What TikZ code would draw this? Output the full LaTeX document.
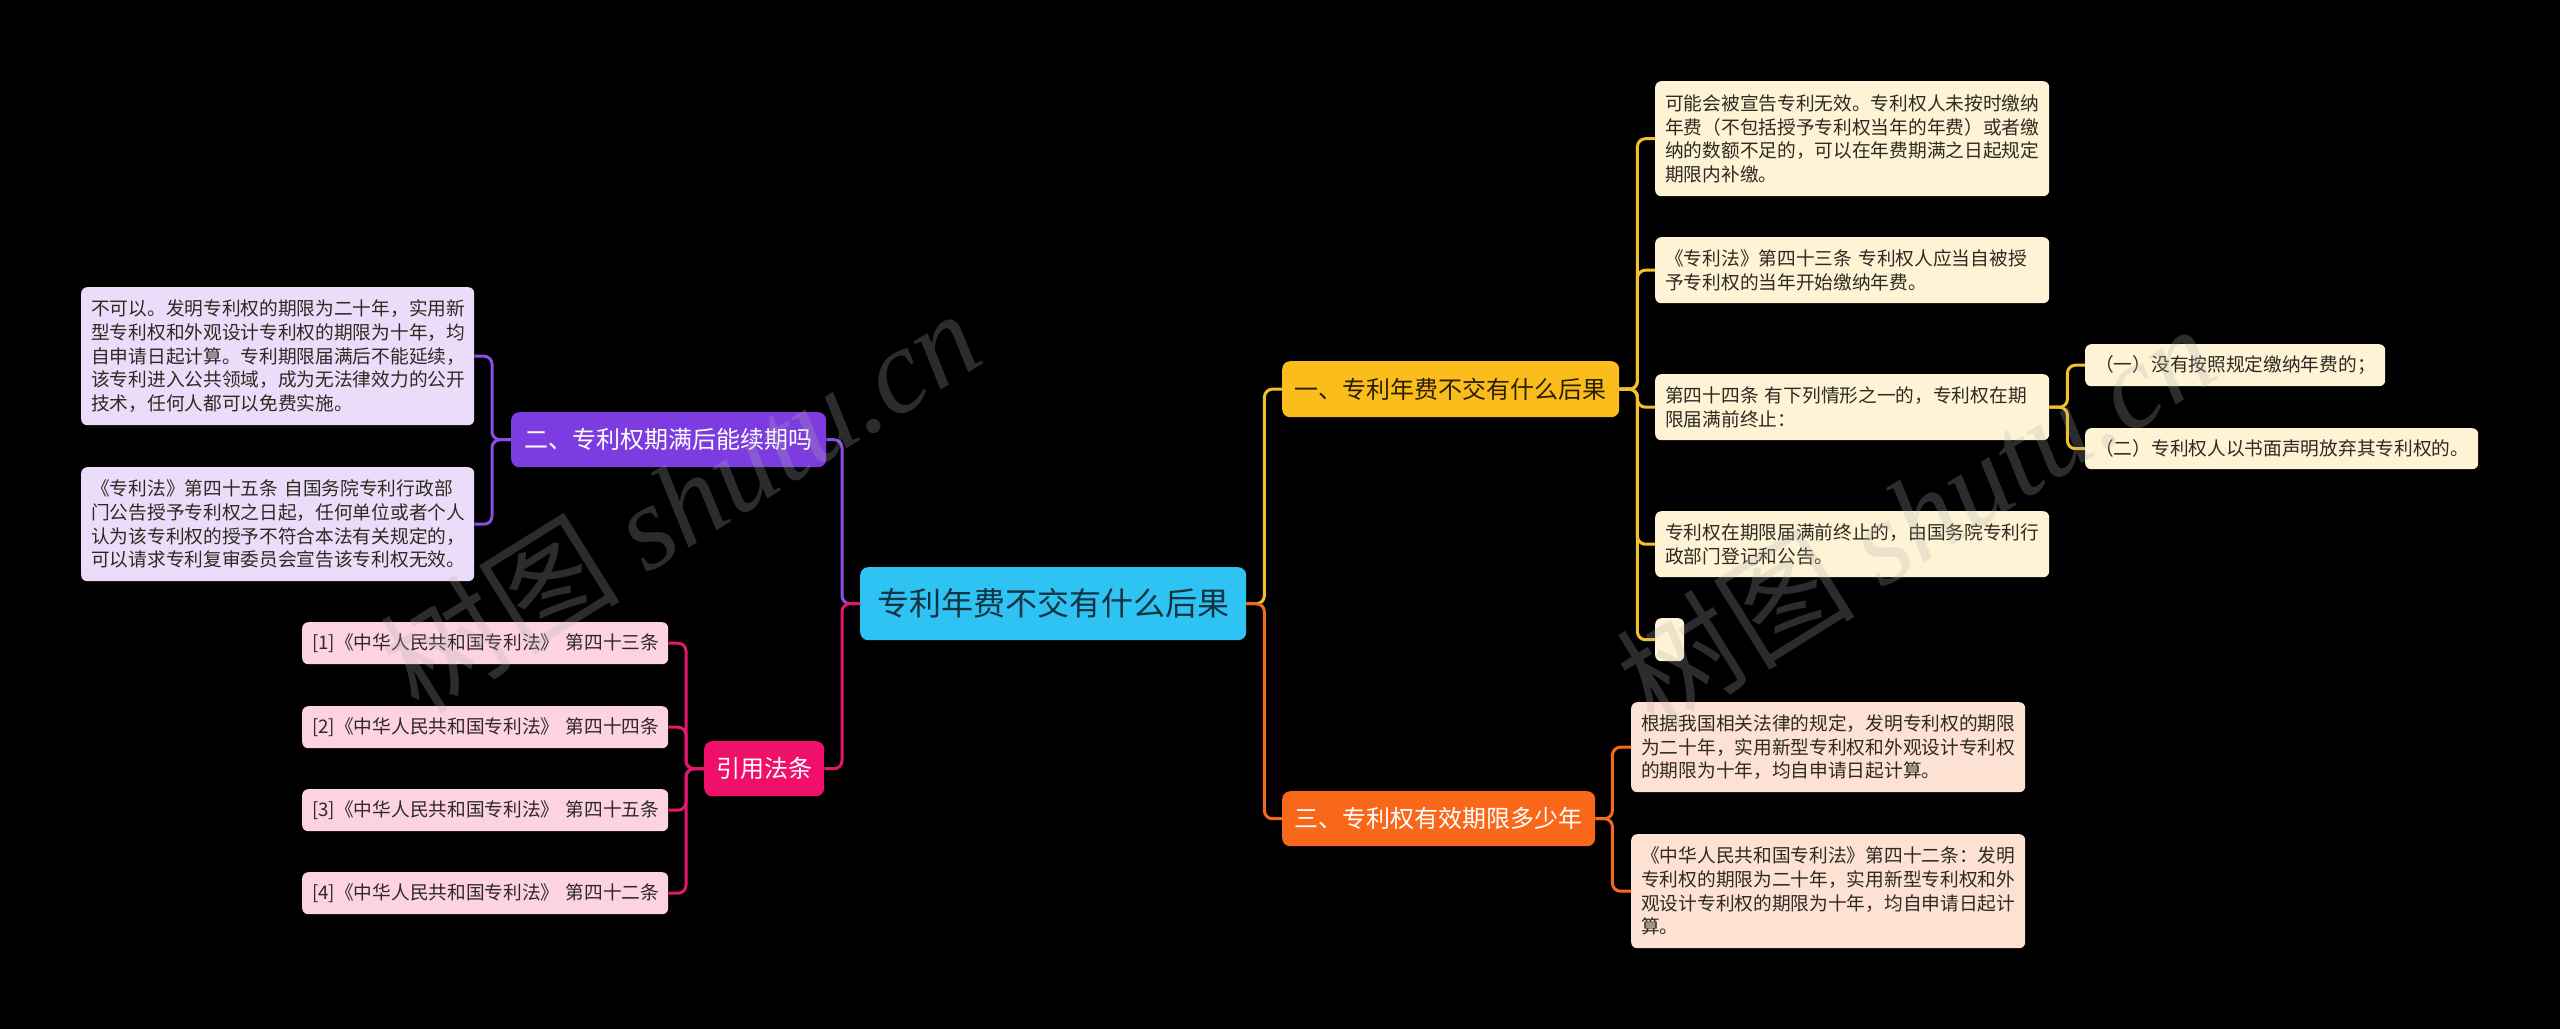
\documentclass[tikz,border=0pt]{standalone}
\usepackage{fontspec}
\setmainfont{Noto Sans CJK SC}
\newfontfamily\wmserif{Liberation Serif}
\definecolor{cenfill}{HTML}{2EC3F2}
\definecolor{centext}{HTML}{123342}
\definecolor{yfill}{HTML}{FABD1C}
\definecolor{ytext}{HTML}{2A2000}
\definecolor{ofill}{HTML}{F8671A}
\definecolor{pfill}{HTML}{7C3CE0}
\definecolor{kfill}{HTML}{F0106C}
\definecolor{yleaf}{HTML}{FFF3D6}
\definecolor{pleaf}{HTML}{EBDDFA}
\definecolor{kleaf}{HTML}{FDD2E3}
\definecolor{oleaf}{HTML}{FDE2D4}
\definecolor{leaftext}{HTML}{2E2A22}
\definecolor{ylin}{HTML}{F2C02A}
\definecolor{olin}{HTML}{F26A1B}
\definecolor{plin}{HTML}{8C4CE6}
\definecolor{klin}{HTML}{E3176E}
\tikzset{
  boxbase/.style={rounded corners=6pt, inner sep=0pt, anchor=north west},
  leafbox/.style={boxbase, inner xsep=10pt, align=left, text=leaftext,
    font=\fontsize{18.7pt}{23.6pt}\selectfont},
  leafY/.style={leafbox, fill=yleaf},
  leafP/.style={leafbox, fill=pleaf},
  leafK/.style={leafbox, fill=kleaf},
  leafO/.style={leafbox, fill=oleaf},
  branchbox/.style={boxbase, rounded corners=8pt, align=center,
    font=\fontsize{24pt}{28pt}\selectfont},
  conn/.style={line width=3pt, rounded corners=8pt},
  lnY/.style={conn, draw=ylin},
  lnO/.style={conn, draw=olin},
  lnP/.style={conn, draw=plin},
  lnK/.style={conn, draw=klin},
  wmark/.style={text=gray!60, opacity=0.25, rotate=32,
    font=\fontsize{120pt}{130pt}\selectfont}
}
\begin{document}
\begin{tikzpicture}[x=1pt,y=-1pt]
\fill[black] (0,0) rectangle (2560,1029);
\useasboundingbox (0,0) rectangle (2560,1029);

% central node
\node[boxbase, rounded corners=8pt, fill=cenfill, text=centext, minimum width=386pt, minimum height=73pt,
  font=\fontsize{32pt}{36pt}\selectfont] (center) at (860,567) {专利年费不交有什么后果};

% branches
\node[branchbox, fill=yfill, text=ytext, minimum width=337pt, minimum height=56pt] (b1) at (1282,361) {一、专利年费不交有什么后果};
\node[branchbox, fill=ofill, text=white, minimum width=313pt, minimum height=55pt] (b3) at (1282,791) {三、专利权有效期限多少年};
\node[branchbox, fill=pfill, text=white, minimum width=315pt, minimum height=55pt] (b2) at (511,412) {二、专利权期满后能续期吗};
\node[branchbox, fill=kfill, text=white, minimum width=120pt, minimum height=55pt] (ref) at (704,741) {引用法条};

% yellow leaves
\node[leafY, text width=374pt, minimum height=115pt] (y1) at (1655,81) {可能会被宣告专利无效。专利权人未按时缴纳\\年费（不包括授予专利权当年的年费）或者缴\\纳的数额不足的，可以在年费期满之日起规定\\期限内补缴。};
\node[leafY, text width=374pt, minimum height=66pt] (y2) at (1655,237) {《专利法》第四十三条 专利权人应当自被授\\予专利权的当年开始缴纳年费。};
\node[leafY, text width=374pt, minimum height=66pt] (y3) at (1655,374) {第四十四条 有下列情形之一的，专利权在期\\限届满前终止：};
\node[leafY, text width=280pt, minimum height=42pt] (y31) at (2085,344) {\mbox{（一）没有按照规定缴纳年费的；}};
\node[leafY, text width=373pt, minimum height=41pt] (y32) at (2085,428) {\mbox{（二）专利权人以书面声明放弃其专利权的。}};
\node[leafY, text width=374pt, minimum height=66pt] (y4) at (1655,511) {专利权在期限届满前终止的，由国务院专利行\\政部门登记和公告。};
\node[boxbase, fill=yleaf, minimum width=29pt, minimum height=43pt] (y5) at (1655,618) {};

% orange leaves
\node[leafO, text width=374pt, minimum height=90pt] (o1) at (1631,702) {根据我国相关法律的规定，发明专利权的期限\\为二十年，实用新型专利权和外观设计专利权\\的期限为十年，均自申请日起计算。};
\node[leafO, text width=374pt, minimum height=114pt] (o2) at (1631,834) {《中华人民共和国专利法》第四十二条：发明\\专利权的期限为二十年，实用新型专利权和外\\观设计专利权的期限为十年，均自申请日起计\\算。};

% purple leaves
\node[leafP, text width=373pt, minimum height=138pt] (pA) at (81,287) {不可以。发明专利权的期限为二十年，实用新\\型专利权和外观设计专利权的期限为十年，均\\自申请日起计算。专利期限届满后不能延续，\\该专利进入公共领域，成为无法律效力的公开\\技术，任何人都可以免费实施。};
\node[leafP, text width=373pt, minimum height=114pt] (pB) at (81,467) {《专利法》第四十五条 自国务院专利行政部\\门公告授予专利权之日起，任何单位或者个人\\认为该专利权的授予不符合本法有关规定的，\\可以请求专利复审委员会宣告该专利权无效。};

% pink leaves
\node[leafK, text width=346pt, minimum height=42pt] (r1) at (302,622) {\mbox{[1]《中华人民共和国专利法》 第四十三条}};
\node[leafK, text width=346pt, minimum height=42pt] (r2) at (302,706) {\mbox{[2]《中华人民共和国专利法》 第四十四条}};
\node[leafK, text width=346pt, minimum height=42pt] (r3) at (302,789) {\mbox{[3]《中华人民共和国专利法》 第四十五条}};
\node[leafK, text width=346pt, minimum height=42pt] (r4) at (302,872) {\mbox{[4]《中华人民共和国专利法》 第四十二条}};

% connectors
\draw[lnP] (center.west) -- ++(-18,0) |- (b2.east);
\draw[lnK] (center.west) -- ++(-18,0) |- (ref.east);
\draw[lnY] (center.east) -- ++(18,0) |- (b1.west);
\draw[lnO] (center.east) -- ++(18,0) |- (b3.west);
\foreach \n in {y1,y2,y3,y4,y5} \draw[lnY] (b1.east) -- ++(18,0) |- (\n.west);
\foreach \n in {y31,y32} \draw[lnY] (y3.east) -- ++(18,0) |- (\n.west);
\foreach \n in {o1,o2} \draw[lnO] (b3.east) -- ++(17,0) |- (\n.west);
\foreach \n in {pA,pB} \draw[lnP] (b2.west) -- ++(-19,0) |- (\n.east);
\foreach \n in {r1,r2,r3,r4} \draw[lnK] (ref.west) -- ++(-18,0) |- (\n.east);

% watermarks
\node[wmark] (wm1) at (680,500) {树图 {\wmserif\itshape shutu.cn}};
\node[wmark] (wm2) at (1915,515) {树图 {\wmserif\itshape shutu.cn}};
\end{tikzpicture}
\end{document}
